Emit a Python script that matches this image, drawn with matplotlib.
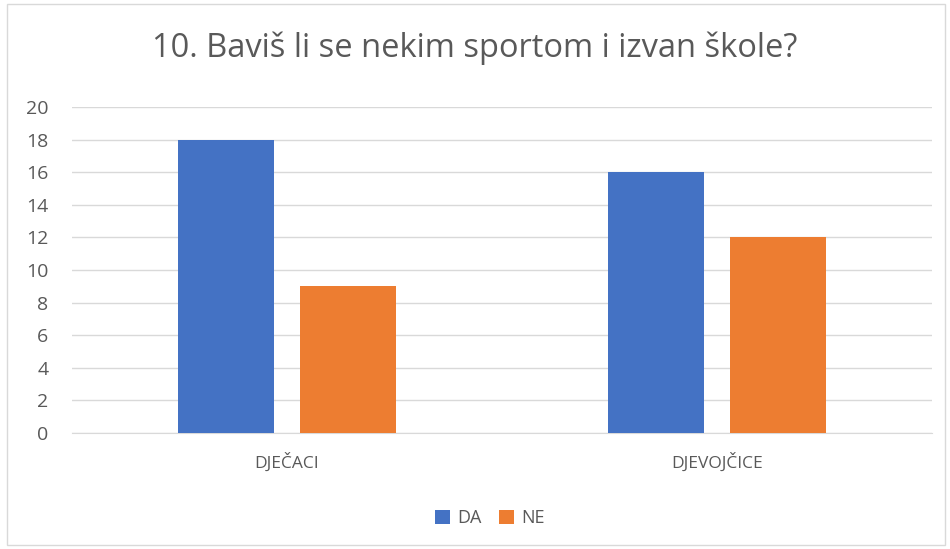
import numpy as np
import matplotlib.pyplot as plt
from matplotlib.patches import Rectangle

categories = ['DJEČACI', 'DJEVOJČICE']
da_values = [18, 16]
ne_values = [9, 12]
y_ticks = [0, 2, 4, 6, 8, 10, 12, 14, 16, 18, 20]

blue = '#4472C4'
orange = '#ED7D31'
text_col = '#595959'

plt.rcParams['font.family'] = ['Open Sans', 'DejaVu Sans']

fig = plt.figure(figsize=(9.5, 5.49), dpi=100)
ax = fig.add_axes([72 / 950, 1 - 433 / 549, (932 - 72) / 950, (433 - 107) / 549])

x = np.arange(len(categories))
w = 0.223
off = 0.142
ax.bar(x - off, da_values, w, color=blue, label='DA', zorder=3)
ax.bar(x + off, ne_values, w, color=orange, label='NE', zorder=3)

ax.set_xlim(-0.5, 1.5)
ax.set_ylim(0, 20)
ax.set_yticks(y_ticks)
ax.set_xticks(x)
ax.set_xticklabels(categories)
ax.yaxis.grid(True, color='#d9d9d9', linewidth=1, zorder=0)
for s in ['top', 'right', 'left']:
    ax.spines[s].set_visible(False)
ax.spines['bottom'].set_color('#d9d9d9')
ax.tick_params(axis='both', length=0, colors=text_col)
ax.tick_params(axis='y', pad=17, labelsize=14)
ax.tick_params(axis='x', pad=14, labelsize=12.5)

fig.text(0.5, 1 - 48 / 549, '10. Baviš li se nekim sportom i izvan škole?',
         ha='center', va='center', fontsize=23.5, color=text_col)

fig.legend(loc='center', bbox_to_anchor=(490 / 950, 1 - 518 / 549), ncol=2,
           frameon=False, fontsize=13, handlelength=0.8, handleheight=0.8,
           columnspacing=1.0, handletextpad=0.4, labelcolor=text_col)

fig.patches.append(Rectangle((7 / 950, 4 / 549), 938 / 950, 541 / 549, transform=fig.transFigure,
                             fill=False, edgecolor='#d9d9d9', linewidth=1))

fig.savefig('out.png', dpi=100)
